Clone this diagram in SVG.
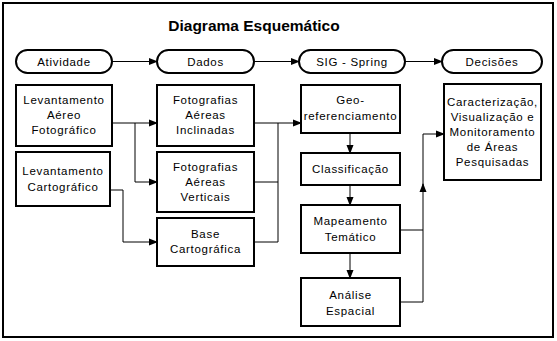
<svg xmlns="http://www.w3.org/2000/svg" width="557" height="341" viewBox="0 0 557 341">
<defs>
<marker id="arr" markerUnits="userSpaceOnUse" markerWidth="9" markerHeight="8" refX="8" refY="4" orient="auto">
<path d="M0,0.5 L9,4 L0,7.5 z" fill="#000"/>
</marker>
<style>
.box{fill:#fff;stroke:#000;stroke-width:2}
.pill{fill:#fff;stroke:#000;stroke-width:2}
.t{font-family:"Liberation Sans",Arial,sans-serif;font-size:11.5px;letter-spacing:0.7px;text-anchor:middle;fill:#000}
.title{font-family:"Liberation Sans",Arial,sans-serif;font-size:15.5px;font-weight:bold;text-anchor:middle;fill:#000}
.c{fill:none;stroke:#000;stroke-width:1}
.ca{fill:none;stroke:#000;stroke-width:1;marker-end:url(#arr)}
</style>
</defs>
<rect x="0" y="0" width="557" height="341" fill="#fff"/>
<rect x="3" y="3" width="550" height="334" fill="#fff" stroke="#000" stroke-width="2"/>
<text class="title" x="254" y="30.5">Diagrama Esquemático</text>

<g id="connectors">
<path class="ca" d="M112,61.5 H157"/>
<path class="ca" d="M254,61.5 H299"/>
<path class="ca" d="M405,61.5 H442"/>
<path class="ca" d="M112,123 H157"/>
<path class="ca" d="M135,123 V182 H157"/>
<path class="ca" d="M110,190 H123 V242 H157"/>
<path class="ca" d="M254,123 H301"/>
<path class="c" d="M254,182 H278 M254,242 H278 M278,123 V242"/>
<path class="ca" d="M350,133 V153"/>
<path class="ca" d="M350,185 V205"/>
<path class="ca" d="M350,253 V278"/>
<path class="c" d="M400,230 H423"/>
<path class="ca" d="M400,302 H423 V184"/>
<path class="ca" d="M423,188 V134 H444"/>
</g>

<g id="p_atividade"><rect class="pill" x="16" y="50" width="96" height="23" rx="11.5"/><text class="t" x="64" y="65.5">Atividade</text></g>
<g id="p_dados"><rect class="pill" x="157" y="50" width="97" height="23" rx="11.5"/><text class="t" x="205.5" y="65.5">Dados</text></g>
<g id="p_sig"><rect class="pill" x="299" y="50" width="106" height="23" rx="11.5"/><text class="t" x="352" y="65.5">SIG - Spring</text></g>
<g id="p_decisoes"><rect class="pill" x="442" y="50" width="100" height="23" rx="11.5"/><text class="t" x="492" y="65.5">Decisões</text></g>

<g id="lev_aereo"><rect class="box" x="16" y="85" width="96" height="61"/>
<text class="t" x="64" y="104">Levantamento</text><text class="t" x="64" y="119">Aéreo</text><text class="t" x="64" y="134">Fotográfico</text></g>
<g id="lev_carto"><rect class="box" x="16" y="152" width="94" height="54"/>
<text class="t" x="63" y="175">Levantamento</text><text class="t" x="63" y="191">Cartográfico</text></g>
<g id="foto_incl"><rect class="box" x="157" y="85" width="97" height="61"/>
<text class="t" x="205.5" y="104">Fotografias</text><text class="t" x="205.5" y="119">Aéreas</text><text class="t" x="205.5" y="134">Inclinadas</text></g>
<g id="foto_vert"><rect class="box" x="157" y="152" width="97" height="60"/>
<text class="t" x="205.5" y="171">Fotografias</text><text class="t" x="205.5" y="186">Aéreas</text><text class="t" x="205.5" y="201">Verticais</text></g>
<g id="base"><rect class="box" x="157" y="218" width="97" height="48"/>
<text class="t" x="205.5" y="238">Base</text><text class="t" x="205.5" y="253">Cartográfica</text></g>
<g id="geo"><rect class="box" x="301" y="85" width="99" height="48"/>
<text class="t" x="350.5" y="104">Geo-</text><text class="t" x="350.5" y="120">referenciamento</text></g>
<g id="classif"><rect class="box" x="301" y="153" width="99" height="32"/>
<text class="t" x="350.5" y="173">Classificação</text></g>
<g id="mapeamento"><rect class="box" x="301" y="205" width="99" height="48"/>
<text class="t" x="350.5" y="225">Mapeamento</text><text class="t" x="350.5" y="241">Temático</text></g>
<g id="analise"><rect class="box" x="301" y="278" width="99" height="48"/>
<text class="t" x="350.5" y="299">Análise</text><text class="t" x="350.5" y="315">Espacial</text></g>
<g id="carac"><rect class="box" x="444" y="84" width="97" height="96"/>
<text class="t" x="492.5" y="106">Caracterização,</text><text class="t" x="492.5" y="121">Visualização e</text><text class="t" x="492.5" y="136">Monitoramento</text><text class="t" x="492.5" y="151">de Áreas</text><text class="t" x="492.5" y="166">Pesquisadas</text></g>
</svg>
